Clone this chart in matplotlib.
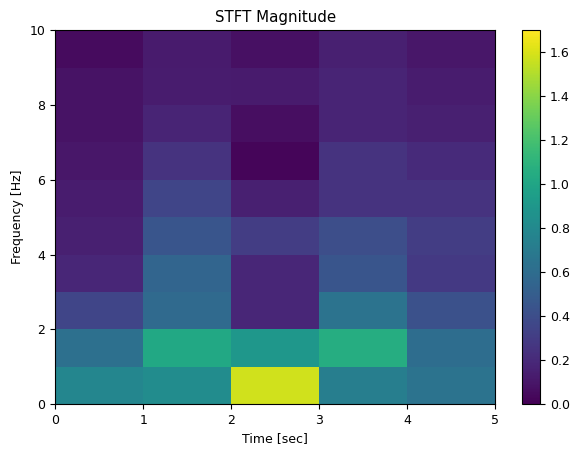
import numpy as np
import matplotlib
matplotlib.use("Agg")
import matplotlib.pyplot as plt

# STFT grid: time bin edges and frequency bin edges
t_edges = [0, 1, 2, 3, 4, 5]
f_edges = [0, 1, 2, 3, 4, 5, 6, 7, 8, 9, 10]

# magnitude per cell, rows = frequency bins (0-1 Hz first), cols = time bins
mag_f0 = [0.78, 0.82, 1.58, 0.72, 0.65]
mag_f1 = [0.62, 1.02, 0.90, 1.05, 0.60]
mag_f2 = [0.35, 0.58, 0.18, 0.65, 0.42]
mag_f3 = [0.18, 0.55, 0.18, 0.45, 0.28]
mag_f4 = [0.15, 0.45, 0.30, 0.40, 0.30]
mag_f5 = [0.13, 0.35, 0.15, 0.25, 0.25]
mag_f6 = [0.10, 0.25, 0.02, 0.25, 0.20]
mag_f7 = [0.08, 0.17, 0.06, 0.17, 0.15]
mag_f8 = [0.08, 0.13, 0.12, 0.17, 0.13]
mag_f9 = [0.05, 0.12, 0.07, 0.15, 0.10]

Zxx = np.array([mag_f0, mag_f1, mag_f2, mag_f3, mag_f4,
                mag_f5, mag_f6, mag_f7, mag_f8, mag_f9])

plt.rcParams['font.size'] = 9

fig = plt.figure(figsize=(5.74, 4.5), dpi=100)
ax = fig.add_axes([0.096, 0.102, 0.767, 0.831])
cax = fig.add_axes([0.909, 0.102, 0.032, 0.831])

mesh = ax.pcolormesh(t_edges, f_edges, Zxx, cmap='viridis', vmin=0, vmax=1.7, shading='flat')
ax.set_title('STFT Magnitude', fontsize=10.8)
ax.set_ylabel('Frequency [Hz]')
ax.set_xlabel('Time [sec]')
fig.colorbar(mesh, cax=cax)

plt.savefig('out.png', dpi=100)
